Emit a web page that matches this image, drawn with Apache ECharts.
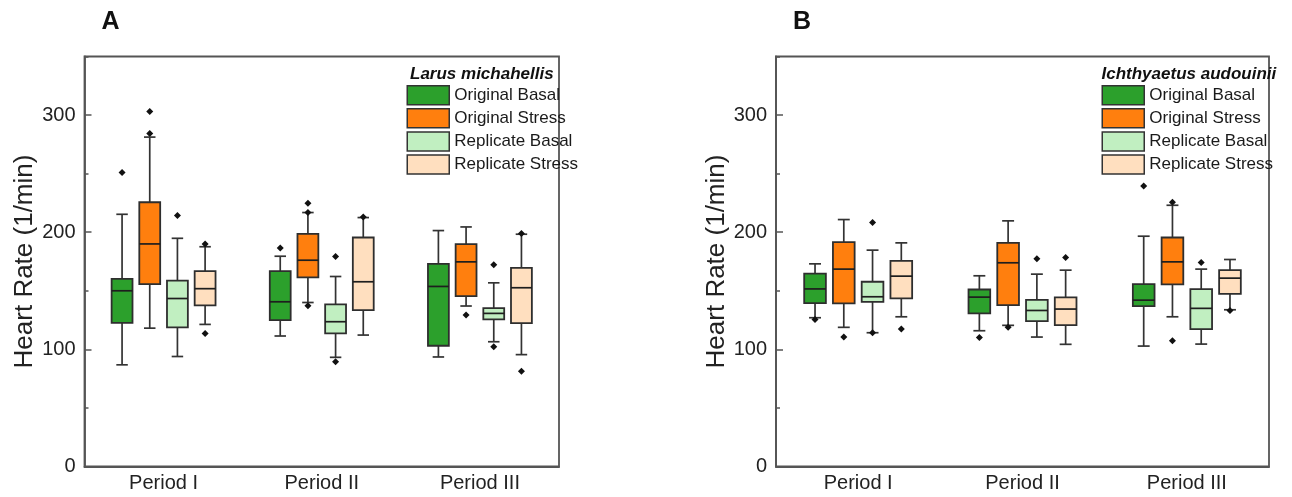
<!DOCTYPE html>
<html>
<head>
<meta charset="utf-8">
<script src="https://cdn.jsdelivr.net/npm/echarts@6/dist/echarts.min.js"></script>
<style>html,body{margin:0;padding:0;background:#fff;}#chart{width:1292px;height:497px;}</style>
</head>
<body>
<div id="chart"></div>
<script>
const categories = ['Period I', 'Period II', 'Period III'];
const groups = ['Original Basal', 'Original Stress', 'Replicate Basal', 'Replicate Stress'];
const yTicks = [0, 100, 200, 300];

// box stats per period: [lower whisker, Q1, median, Q3, upper whisker]
const larusOriginalBasal = [[86.8, 122.6, 150, 160.2, 215.3], [111.4, 125, 140.6, 166.8, 179.5], [93.5, 103.1, 153.7, 173, 201.4]];
const larusOriginalStress = [[118.1, 155.7, 190, 225.6, 281.2], [140, 161.4, 176.1, 198.6, 216.8], [137, 145.5, 174.7, 189.8, 204.5]];
const larusReplicateBasal = [[93.9, 118.8, 143.4, 158.6, 194.8], [93.2, 113.6, 123.6, 138.4, 162.2], [106.5, 125.6, 130.7, 135.2, 156.8]];
const larusReplicateStress = [[121.3, 137.5, 151.8, 166.8, 187.6], [112.2, 133.5, 157.7, 195.5, 212.5], [95.5, 122.4, 152.6, 169.6, 198.3]];

// outliers: [period index, value]
const larusOriginalBasalOut = [[0, 251], [1, 186.6]];
const larusOriginalStressOut = [[0, 303], [0, 284.2], [1, 224.7], [1, 216.8], [1, 137.2], [2, 129.3]];
const larusReplicateBasalOut = [[0, 214.2], [1, 179.3], [1, 89.5], [2, 172.2], [2, 102.3]];
const larusReplicateStressOut = [[0, 189.9], [0, 113.5], [1, 213], [2, 198.9], [2, 81.3]];

const ichOriginalBasal = [[127, 139.4, 151.6, 164.6, 173], [115.9, 130.7, 144.6, 151.1, 162.8], [102.8, 136.9, 142, 155.7, 196.6]];
const ichOriginalStress = [[118.8, 139.2, 168.5, 191.5, 210.8], [120.5, 137.8, 173.9, 190.9, 209.7], [127.8, 155.4, 174.7, 195.5, 223]];
const ichReplicateBasal = [[114.2, 140.6, 144.9, 157.7, 184.7], [110.5, 124.1, 133.2, 142.3, 164.2], [104.5, 117.3, 135, 151.4, 168.5]];
const ichReplicateStress = [[127.8, 143.5, 162.5, 175.6, 190.9], [104.3, 120.7, 134.4, 144.3, 167.6], [133.8, 147.4, 160.8, 167.6, 176.7]];

const ichOriginalBasalOut = [[0, 125.5], [1, 110.2], [2, 239.5]];
const ichOriginalStressOut = [[0, 110.5], [1, 118.8], [2, 225.6], [2, 107.4]];
const ichReplicateBasalOut = [[0, 208.2], [0, 114.2], [1, 177.3], [2, 174.1]];
const ichReplicateStressOut = [[0, 117.3], [1, 178.4], [2, 133.2]];

const panels = [
  { letter: 'A', species: 'Larus michahellis',
    boxes: [larusOriginalBasal, larusOriginalStress, larusReplicateBasal, larusReplicateStress],
    outs: [larusOriginalBasalOut, larusOriginalStressOut, larusReplicateBasalOut, larusReplicateStressOut] },
  { letter: 'B', species: 'Ichthyaetus audouinii',
    boxes: [ichOriginalBasal, ichOriginalStress, ichReplicateBasal, ichReplicateStress],
    outs: [ichOriginalBasalOut, ichOriginalStressOut, ichReplicateBasalOut, ichReplicateStressOut] }
];

const colors = ['#2ca02c', '#ff7f0e', '#c1efc1', '#ffdfbf'];
const FONT = '"Liberation Sans", Arial, sans-serif';
const FRAME = '#555';
const SPACING = 0.175;   // box spacing as fraction of band
const BOXW = 0.132;      // box width as fraction of band
const CAPW = 0.55;       // cap width relative to box width

const gridLayout = [
  { left: 84.5, top: 56.5, width: 474.5, height: 410 },
  { left: 776, top: 56.5, width: 493, height: 410 }
];
const legendPos = [{ left: 406.5, title: 410 }, { left: 1101.5, title: 1101.5 }];
const letterPos = [101.5, 793];

function boxRender(k) {
  return function (params, api) {
    const c = api.value(0);
    const band = api.size([1, 0])[0];
    const xc = api.coord([c, 0])[0] + (k - 1.5) * band * SPACING;
    const w = band * BOXW;
    const cw = w * CAPW;
    const y = [1, 2, 3, 4, 5].map(i => api.coord([c, api.value(i)])[1]);
    const ls = { stroke: '#333', lineWidth: 1.7 };
    return {
      type: 'group',
      children: [
        { type: 'line', shape: { x1: xc, y1: y[4], x2: xc, y2: y[3] }, style: ls },
        { type: 'line', shape: { x1: xc, y1: y[1], x2: xc, y2: y[0] }, style: ls },
        { type: 'line', shape: { x1: xc - cw / 2, y1: y[4], x2: xc + cw / 2, y2: y[4] }, style: ls },
        { type: 'line', shape: { x1: xc - cw / 2, y1: y[0], x2: xc + cw / 2, y2: y[0] }, style: ls },
        { type: 'rect', shape: { x: xc - w / 2, y: y[3], width: w, height: y[1] - y[3] },
          style: { fill: colors[k], stroke: '#2e2e2e', lineWidth: 1.8 } },
        { type: 'line', shape: { x1: xc - w / 2, y1: y[2], x2: xc + w / 2, y2: y[2] },
          style: { stroke: '#1e1e1e', lineWidth: 1.7 } }
      ]
    };
  };
}

function outRender(k) {
  return function (params, api) {
    const c = api.value(0);
    const band = api.size([1, 0])[0];
    const p = api.coord([c, api.value(1)]);
    const xc = p[0] + (k - 1.5) * band * SPACING;
    const r = 3.5;
    return {
      type: 'polygon',
      shape: { points: [[xc, p[1] - r], [xc + r, p[1]], [xc, p[1] + r], [xc - r, p[1]]] },
      style: { fill: '#111' }
    };
  };
}

const option = {
  animation: false,
  backgroundColor: '#fff',
  grid: gridLayout.map(g => Object.assign({ show: true, borderColor: FRAME, borderWidth: 1.8, backgroundColor: 'transparent' }, g)),
  xAxis: [0, 1].map(i => ({
    type: 'category', gridIndex: i, data: categories,
    axisLine: { show: true, lineStyle: { color: FRAME, width: 1.8 } },
    axisTick: { show: false },
    axisLabel: { fontSize: 20, color: '#222', fontFamily: FONT, margin: 7 },
    splitLine: { show: false }
  })),
  yAxis: [0, 1].flatMap(i => ([
    {
      type: 'value', gridIndex: i, position: 'left', min: 0, max: 350, interval: 100,
      name: 'Heart Rate (1/min)', nameLocation: 'middle', nameGap: 46,
      nameTextStyle: { fontSize: 26, color: '#222', fontFamily: FONT },
      axisLine: { show: true, lineStyle: { color: FRAME, width: 1.8 } },
      axisTick: { show: true, inside: true, length: 7, lineStyle: { color: FRAME, width: 1.5 } },
      axisLabel: { fontSize: 20, color: '#222', fontFamily: FONT, margin: 9, showMaxLabel: false,
        formatter: v => (yTicks.indexOf(v) >= 0 ? String(v) : '') },
      splitLine: { show: false }
    },
    {
      type: 'value', gridIndex: i, position: 'left', offset: 0, min: 0, max: 350, interval: 50,
      axisLine: { show: false },
      axisTick: { show: true, inside: true, length: 4, lineStyle: { color: FRAME, width: 1.5 } },
      axisLabel: { show: false },
      splitLine: { show: false }
    }
  ])),
  legend: [0, 1].map(i => ({
    left: legendPos[i].left, top: 85, orient: 'vertical', padding: 0,
    itemWidth: 42, itemHeight: 19, itemGap: 2.6, icon: 'rect', selectedMode: false,
    textStyle: { fontSize: 17, color: '#1a1a1a', fontFamily: FONT },
    data: groups.map((g, k) => ({ name: g, itemStyle: { color: colors[k], borderColor: '#333', borderWidth: 1.5 } }))
  })),
  graphic: [0, 1].flatMap(i => ([
    { type: 'text', left: letterPos[i], top: 10,
      style: { text: panels[i].letter, font: 'bold 25px ' + FONT, fill: '#111' } },
    { type: 'text', left: legendPos[i].title, top: 66,
      style: { text: panels[i].species, font: 'italic bold 17px ' + FONT, fill: '#111' } }
  ])),
  series: []
};

panels.forEach((p, i) => {
  groups.forEach((g, k) => {
    option.series.push({
      type: 'custom', name: g, xAxisIndex: i, yAxisIndex: 2 * i,
      itemStyle: { color: colors[k] },
      renderItem: boxRender(k),
      encode: { x: 0, y: [1, 2, 3, 4, 5] },
      data: p.boxes[k].map((s, c) => [c].concat(s))
    });
  });
  groups.forEach((g, k) => {
    option.series.push({
      type: 'custom', name: g + ' outliers', xAxisIndex: i, yAxisIndex: 2 * i,
      renderItem: outRender(k),
      encode: { x: 0, y: 1 },
      data: p.outs[k]
    });
  });
});

const chart = echarts.init(document.getElementById('chart'), null, { renderer: 'canvas' });
chart.setOption(option);
</script>
</body>
</html>
